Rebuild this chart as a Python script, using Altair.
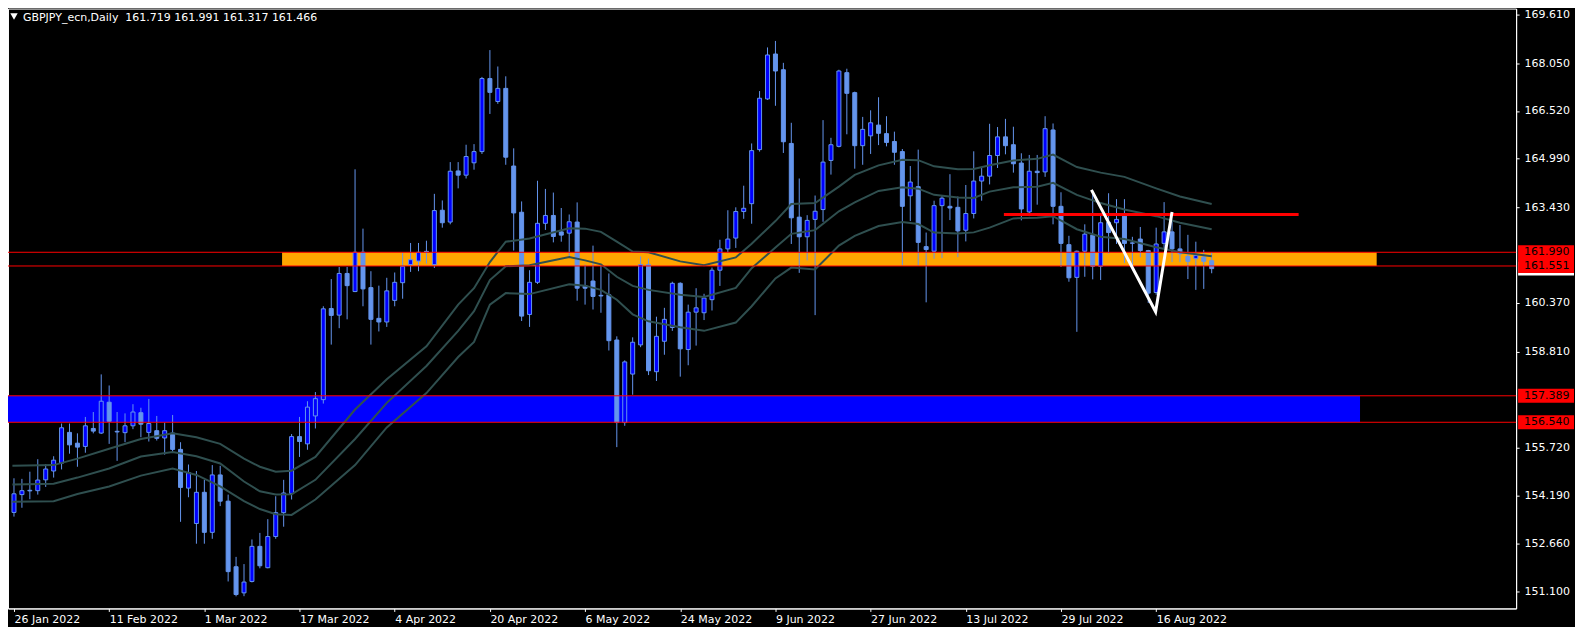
import altair as alt
import pandas as pd

# ---------------- data ----------------
opens = [153.650,154.222,154.360,154.348,154.695,154.978,155.230,156.216,155.870,155.766,
         156.342,156.194,157.183,156.250,156.207,156.427,156.847,156.216,156.270,156.037,
         156.194,155.671,154.430,153.296,154.295,153.012,154.852,154.011,151.909,151.072,
         151.437,152.562,151.878,152.877,153.643,154.254,156.081,155.848,156.743,157.266,
         160.186,159.975,161.311,160.731,161.991,160.857,159.871,159.755,160.448,161.015,
         161.595,161.708,162.020,161.595,163.337,162.959,164.597,164.462,164.858,165.218,
         167.559,166.824,167.244,164.755,163.274,159.997,161.027,162.918,163.170,162.644,
         162.603,162.959,160.920,161.068,160.610,160.627,159.178,156.531,158.085,159.021,
         161.595,158.161,159.137,159.578,160.996,158.872,160.070,160.051,160.470,161.415,
         162.098,162.445,163.296,163.548,165.281,166.906,168.346,167.842,165.479,163.116,
         162.486,163.044,163.359,164.934,165.385,167.748,167.108,165.407,165.722,166.068,
         165.794,165.542,165.218,163.800,164.093,162.171,162.023,163.485,163.463,163.431,
         162.697,163.233,164.273,164.430,165.092,165.690,165.438,164.850,163.283,164.588,
         164.566,165.911,163.463,162.234,161.185,162.023,162.540,161.541,162.950,162.937,
         163.148,162.290,162.414,162.045,160.700,162.275,162.644,162.098,161.856,161.784,
         161.834,161.719]
highs = [154.745,154.726,154.956,155.356,155.199,155.451,156.500,156.500,156.185,156.711,
         156.869,158.075,157.720,156.869,156.825,157.120,157.005,157.288,156.743,156.531,
         156.774,155.901,155.186,154.978,154.695,155.167,155.145,154.222,152.225,151.994,
         152.783,152.994,153.434,154.169,154.695,156.163,156.711,157.215,157.508,160.259,
         161.131,161.519,161.519,164.650,162.748,161.383,160.920,161.172,161.342,161.972,
         162.288,162.288,162.360,163.863,163.652,164.881,164.881,165.438,165.457,167.612,
         168.472,167.946,167.631,165.322,163.620,161.415,164.282,164.021,163.904,163.409,
         163.201,163.589,161.595,162.203,161.573,161.311,159.295,158.526,159.263,161.856,
         161.784,159.925,160.209,161.046,161.027,160.312,160.838,160.659,161.500,162.392,
         163.337,163.431,164.124,165.479,167.158,168.557,168.765,168.063,166.141,164.355,
         163.179,163.809,166.226,165.659,167.842,167.874,167.140,166.330,166.541,166.960,
         166.352,165.857,165.300,164.755,165.281,162.622,163.643,163.809,164.493,163.778,
         164.147,165.227,164.723,166.109,166.005,166.267,166.015,165.164,165.110,165.110,
         166.352,166.119,163.913,162.518,162.045,162.886,163.957,163.201,163.882,163.693,
         163.693,162.486,162.801,162.067,162.779,163.598,163.022,162.864,162.549,162.329,
         162.067,161.991]
lows = [153.516,153.800,154.074,154.222,154.468,154.767,155.029,155.533,155.114,155.564,
        156.185,156.163,155.848,155.303,155.901,156.320,156.059,155.923,155.955,155.501,
        155.586,153.349,154.137,152.647,152.647,152.805,153.853,151.437,150.960,150.965,
        151.406,151.859,151.859,152.805,153.192,154.064,155.429,155.659,156.342,157.140,
        159.030,159.556,159.840,160.712,160.259,159.030,159.452,159.597,160.259,160.501,
        161.361,161.383,161.626,161.487,162.779,162.886,164.039,164.355,164.638,165.142,
        166.424,166.749,164.795,162.045,159.786,159.597,160.974,162.707,162.307,162.329,
        161.834,160.438,160.312,160.155,160.051,158.841,155.744,156.427,157.423,158.948,
        158.053,157.864,158.705,159.471,158.003,158.368,158.998,159.817,160.123,160.911,
        161.960,162.130,163.063,162.905,165.218,166.875,166.686,165.174,162.256,161.330,
        161.730,159.975,162.968,164.480,165.353,165.772,164.670,164.795,165.142,165.426,
        165.385,164.795,161.573,162.990,161.573,160.385,161.784,161.803,163.022,161.834,
        162.338,163.075,163.643,164.165,164.692,165.130,164.543,163.012,163.148,163.516,
        164.408,162.886,161.519,161.046,159.440,161.204,161.122,161.100,161.941,162.256,
        161.645,161.541,161.834,160.366,160.627,162.098,161.676,161.676,161.131,160.785,
        160.816,161.317]
closes = [154.247,154.348,154.340,154.688,155.042,155.325,156.364,155.816,155.744,156.427,
          156.257,157.215,156.572,156.230,156.427,156.869,156.478,156.500,156.027,156.270,
          155.671,154.452,154.924,154.295,153.012,154.852,154.011,151.752,151.018,151.418,
          152.562,151.940,152.877,153.643,154.273,156.081,155.923,157.026,157.297,160.177,
          159.966,161.311,160.920,161.991,160.816,159.840,159.755,160.753,161.027,161.541,
          161.752,161.991,162.000,163.327,162.937,164.588,164.462,165.060,165.218,167.559,
          167.117,167.244,165.038,163.251,159.944,161.027,162.918,163.170,162.496,162.540,
          162.968,160.838,160.838,160.574,160.590,159.156,156.531,158.475,159.106,161.595,
          158.192,159.295,159.840,160.996,158.894,160.070,160.209,160.523,161.415,162.098,
          162.414,163.296,163.400,165.249,166.928,168.315,167.801,165.533,163.094,162.486,
          163.012,163.305,164.881,165.438,167.801,167.086,165.407,165.930,166.141,165.804,
          165.511,165.196,163.463,164.241,162.307,162.077,163.485,163.724,163.409,162.675,
          163.233,164.273,164.430,165.092,165.690,165.407,164.827,163.378,164.588,164.544,
          165.952,163.463,162.275,161.172,162.023,162.571,161.541,162.937,162.622,163.044,
          162.275,162.280,162.045,160.680,162.256,162.644,162.098,161.941,161.699,161.888,
          161.699,161.466]

tick_labels = ["26 Jan 2022", "11 Feb 2022", "1 Mar 2022", "17 Mar 2022", "4 Apr 2022",
               "20 Apr 2022", "6 May 2022", "24 May 2022", "9 Jun 2022", "27 Jun 2022",
               "13 Jul 2022", "29 Jul 2022", "16 Aug 2022"]
tick_step = 12

ma_idx = [-0.2, 5, 8, 12, 16, 20, 23, 26, 29, 31, 33, 35, 38, 43, 47, 52, 56, 58, 60, 62,
          65, 70, 72, 74, 76, 78, 80, 84, 87, 91, 93, 96, 98, 101, 104, 106, 109, 112, 114,
          116, 119, 121, 123, 126, 129, 131, 134, 137, 140, 144, 147, 151]
ma_upper = [155.145,155.167,155.375,155.690,156.005,156.185,156.059,155.848,155.375,155.114,
            154.956,154.988,155.429,156.950,157.918,158.973,160.312,160.838,161.676,162.329,
            162.433,162.760,162.748,162.644,162.329,162.013,161.991,161.698,161.573,161.824,
            162.266,162.990,163.535,163.567,164.093,164.471,164.777,164.953,164.944,164.745,
            164.651,164.660,164.777,164.934,164.985,165.123,164.723,164.543,164.408,164.039,
            163.778,163.535]
ma_mid = [154.547,154.569,154.767,155.060,155.444,155.586,155.451,155.218,154.641,154.326,
          154.222,154.232,154.695,156.005,157.162,158.343,159.471,160.101,161.100,161.541,
          161.573,161.834,161.730,161.604,161.204,160.911,160.785,160.627,160.555,160.848,
          161.478,162.140,162.581,162.700,163.305,163.589,163.957,164.077,164.030,163.831,
          163.746,163.731,163.935,164.071,164.093,164.219,163.831,163.567,163.359,163.148,
          162.937,162.729]
ma_lower = [153.995,154.011,154.241,154.483,154.830,155.060,154.852,154.483,154.011,153.759,
            153.592,153.570,154.064,155.167,156.374,157.477,158.633,159.115,160.312,160.681,
            160.649,160.964,160.920,160.785,160.470,160.000,159.777,159.588,159.471,159.736,
            160.259,161.153,161.500,161.437,162.203,162.518,162.833,162.959,162.896,162.622,
            162.590,162.628,162.779,163.075,163.094,163.148,162.729,162.486,162.413,162.149,
            161.991,161.866]

levels = [161.990, 161.551, 157.389, 156.540]
y_ticks = [169.610, 168.050, 166.520, 164.990, 163.430, 160.370, 158.810,
           155.720, 154.190, 152.660, 151.100]
bid_price = 161.466

orange_zone = {"x0": [33.8], "x1": [171.8], "lo": [161.551], "hi": [161.990]}
blue_zone = {"x0": [-5.0], "x1": [169.7], "lo": [156.540], "hi": [157.389]}
red_segment = {"x0": [124.8], "x1": [161.96], "price": [163.201]}
v_idx = [135.84, 143.93, 146.0]
v_price = [163.989, 160.082, 163.283]

title_text = "GBPJPY_ecn,Daily \u00a0161.719 161.991 161.317 161.466"

# ---------------- layout ----------------
W, H = 1511, 601
PX_PER_BAR = 8.0
X_DOM = [-1.0 / PX_PER_BAR, -1.0 / PX_PER_BAR + W / PX_PER_BAR]
Y_DOM = [150.572, 169.802]
BOX_HALF = 0.224

CANDLE_LIGHT = "#6495ED"
CANDLE_DARK = "#0000FF"
MA_COLOR = "#2F4F4F"
WHITE = "#FFFFFF"
RED = "#FF0000"
FONT = "DejaVu Sans"

label_expr = "[" + ",".join("'%s'" % t for t in tick_labels) + "][round(datum.value/%d)]" % tick_step

x_axis = alt.Axis(values=[i * tick_step for i in range(len(tick_labels))], labelExpr=label_expr,
                  title=None, grid=False, domainColor=WHITE, tickColor=WHITE, tickSize=3,
                  labelColor=WHITE, labelFont=FONT, labelFontSize=11, labelAlign="left",
                  labelBaseline="top", labelPadding=2, labelFlush=False, labelOverlap=False,
                  labelBound=False)
y_axis = alt.Axis(orient="right", values=y_ticks, format=".3f", title=None, grid=False,
                  domainColor=WHITE, tickColor=WHITE, tickSize=3, labelPadding=5,
                  labelColor=WHITE, labelFont=FONT, labelFontSize=11, labelAlign="left",
                  labelBaseline="middle", labelOverlap=False, labelFlush=False, labelBound=False)

x_scale = alt.Scale(domain=X_DOM, nice=False, zero=False)
y_scale = alt.Scale(domain=Y_DOM, nice=False, zero=False)


def xq(f):
    return alt.X(f, type="quantitative", scale=x_scale, axis=x_axis)


def yq(f):
    return alt.Y(f, type="quantitative", scale=y_scale, axis=y_axis)


candles = pd.DataFrame({"idx": list(range(len(opens))), "open": opens, "high": highs,
                        "low": lows, "close": closes})

ma_rows = []
for name, arr in (("upper", ma_upper), ("mid", ma_mid), ("lower", ma_lower)):
    for i, v in zip(ma_idx, arr):
        ma_rows.append({"idx": i, "value": v, "series": name})
ma_df = pd.DataFrame(ma_rows)

levels_df = pd.DataFrame({"price": levels})
v_df = pd.DataFrame({"idx": v_idx, "price": v_price, "order": list(range(len(v_idx)))})

orange = alt.Chart(pd.DataFrame(orange_zone)).mark_rect(color="#FFA500", clip=True).encode(
    x=xq("x0"), x2="x1", y=yq("lo"), y2="hi")
blue = alt.Chart(pd.DataFrame(blue_zone)).mark_rect(color="#0000FF", clip=True).encode(
    x=xq("x0"), x2="x1", y=yq("lo"), y2="hi")
level_rules = alt.Chart(levels_df).mark_rule(color=RED, strokeWidth=1).encode(y=yq("price"))

wicks = alt.Chart(candles).mark_rule(color=CANDLE_LIGHT, strokeWidth=1).encode(
    x=xq("idx"), y=yq("low"), y2="high")
bear = alt.Chart(candles).transform_filter("datum.close < datum.open").mark_bar(
    size=4, fill=CANDLE_LIGHT, stroke=CANDLE_LIGHT, strokeWidth=1).encode(
    x=xq("idx"), y=yq("open"), y2="close")
bull = alt.Chart(candles).transform_filter("datum.close >= datum.open").mark_bar(
    size=4, fill=CANDLE_DARK, stroke=CANDLE_LIGHT, strokeWidth=1).encode(
    x=xq("idx"), y=yq("open"), y2="close")

ma_lines = alt.Chart(ma_df).mark_line(color=MA_COLOR, strokeWidth=2, clip=True).encode(
    x=xq("idx"), y=yq("value"), detail="series:N")

segment = alt.Chart(pd.DataFrame(red_segment)).mark_rule(color=RED, strokeWidth=3).encode(
    x=xq("x0"), x2="x1", y=yq("price"))
vline = alt.Chart(v_df).mark_line(color=WHITE, strokeWidth=3).encode(
    x=xq("idx"), y=yq("price"), order="order:Q")

bid_box = alt.Chart(pd.DataFrame({"price": [bid_price]})).transform_calculate(
    lo="datum.price - %f" % BOX_HALF, hi="datum.price + %f" % BOX_HALF).mark_rect(
    color=WHITE).encode(x=alt.value(W + 2), x2=alt.value(W + 58), y=yq("lo:Q"), y2="hi:Q")
red_boxes = alt.Chart(levels_df).transform_calculate(
    lo="datum.price - %f" % BOX_HALF, hi="datum.price + %f" % BOX_HALF).mark_rect(
    color=RED).encode(x=alt.value(W + 2), x2=alt.value(W + 58), y=yq("lo:Q"), y2="hi:Q")
box_text = alt.Chart(levels_df).transform_calculate(
    label="format(datum.price, '.3f')").mark_text(
    align="left", baseline="middle", font=FONT, fontSize=11, color="#000000").encode(
    x=alt.value(W + 8), y=yq("price"), text="label:N")

title_mark = alt.Chart(pd.DataFrame({"t": [title_text]})).mark_text(
    align="left", baseline="middle", font=FONT, fontSize=11, color=WHITE).encode(
    x=alt.value(15), y=alt.value(9), text="t:N")
tri = alt.Chart(pd.DataFrame({"t": [0]})).mark_point(
    shape="triangle-down", filled=True, color=WHITE, size=55, opacity=1).encode(
    x=alt.value(6), y=alt.value(8))

chart = alt.layer(
    orange, blue, wicks, bear, bull, ma_lines, level_rules, segment, vline,
    bid_box, red_boxes, box_text, title_mark, tri
).properties(
    width=W, height=H,
    autosize=alt.AutoSizeParams(type="none"),
    padding={"left": 0, "top": 0, "right": 59, "bottom": 18},
).configure(
    background="#000000", font=FONT
).configure_view(
    stroke=WHITE, strokeWidth=1
)

chart.save("out.html", embed_options={"renderer": "svg", "actions": False})
